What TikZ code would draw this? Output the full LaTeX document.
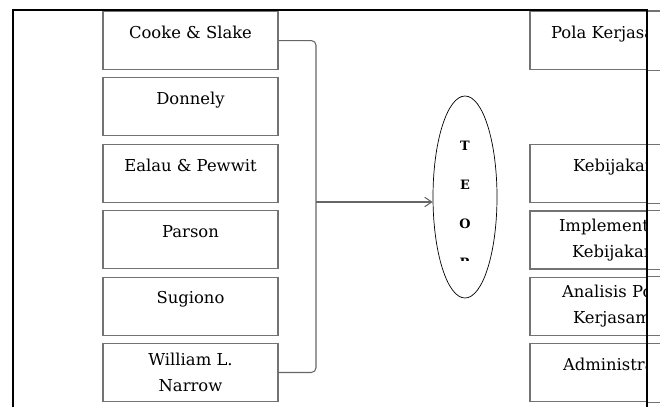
\documentclass[tikz,border=0pt]{standalone}
\usepackage{fontspec}
\setmainfont{DejaVu Serif}
\usetikzlibrary{positioning,shapes.geometric,arrows.meta}

\begin{document}
\begin{tikzpicture}[
	kotak/.style={draw=black!55, line width=0.9pt, minimum width=5.25cm, minimum height=1.74cm, inner xsep=0pt, anchor=north, font=\fontsize{14}{22}\selectfont},
	satu/.style={text height=11pt, text depth=14.6pt},
	kiri/.style={text width=5.25cm, align=left},
	garis/.style={draw=black!60, line width=0.9pt},
	huruf/.style={font=\fontsize{11}{11}\selectfont\bfseries, anchor=base},
	bingkai/.style={line width=2.2pt}
	]
	\useasboundingbox (0,0) rectangle (20.1,-12.21);
	% kolom kiri
	\node[kotak,satu] (cooke) at (5.715,-0.33) {Cooke \& Slake};
	\node[kotak,satu,below=0.22cm of cooke] (donnely) {Donnely};
	\node[kotak,satu,below=0.22cm of donnely] (ealau) {Ealau \& Pewwit};
	\node[kotak,satu,below=0.22cm of ealau] (parson) {Parson};
	\node[kotak,satu,below=0.22cm of parson] (sugiono) {Sugiono};
	\node[kotak,align=center,below=0.22cm of sugiono] (william) {William L.\\Narrow};
	% kolom kanan
	\begin{scope}
		\clip (15,0) rectangle (19.41,-12.21);
		\node[kotak,kiri,satu] (pola) at (18.525,-0.33) {\hspace*{0.63cm}Pola Kerjasa};
		\node[kotak,kiri,satu,below=2.22cm of pola] (kebijakan) {\hspace*{1.29cm}Kebijakan};
		\node[kotak,kiri,below=0.22cm of kebijakan] (implementasi) {\hspace*{0.87cm}Implementa\\\hspace*{1.26cm}Kebijakan};
		\node[kotak,kiri,below=0.22cm of implementasi] (analisis) {\hspace*{0.96cm}Analisis Po\\\hspace*{1.29cm}Kerjasama};
		\node[kotak,kiri,satu,below=0.22cm of analisis] (administrasi) {\hspace*{0.99cm}Administra};
	\end{scope}
	\coordinate (batas) at (19.41,0);
	\coordinate (ujung) at (19.8,0);
	\foreach \n in {pola,kebijakan,implementasi,analisis,administrasi}
		\draw[draw=black!55, line width=0.9pt] (\n.north -| batas) -- (\n.north -| ujung) (\n.south -| batas) -- (\n.south -| ujung);
	% teori
	\node[draw, ellipse, line width=0.6pt, minimum width=1.92cm, minimum height=6.06cm] (teori) at (13.95,-5.91) {};
	\begin{scope}
		\clip (13,-3) rectangle (15,-7.8);
		\foreach \h [count=\i] in {T,E,O,R}
			\node[huruf] (h\i) at (13.95,{-4.5-(\i-1)*1.17}) {\h};
	\end{scope}
	\coordinate (kurung) at (9.48,0);
	\coordinate (masuk) at ([yshift=-0.15cm]teori.west);
	\draw[garis, rounded corners=4pt] (cooke.east) -- (cooke.east -| kurung) -- (william.east -| kurung) -- (william.east);
	\draw[garis, -{Straight Barb[length=6pt,width=8pt]}] (masuk -| kurung) -- (masuk);
	\draw[bingkai] (0.39,-12.21) |- (19.41,-0.3) -- (19.41,-12.21);
\end{tikzpicture}
\end{document}
